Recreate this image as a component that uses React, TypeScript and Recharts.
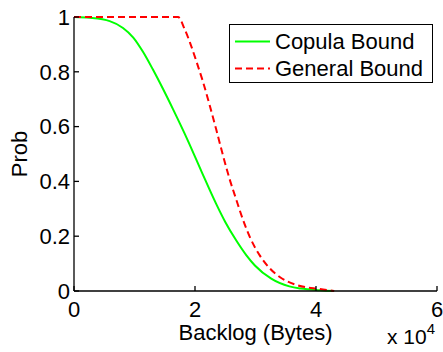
import { LineChart, Line, XAxis, YAxis, Legend } from 'recharts';

// Backlog values are in units of 10^4 bytes
const copulaBacklog = [0, 0.26, 0.59, 0.81, 0.98, 1.14, 1.3, 1.47, 1.64, 1.88, 2.11, 2.35, 2.5, 2.68, 2.85, 2.99, 3.26, 3.56, 3.75, 4.06, 4.3];
const copulaProb = [1, 0.997, 0.985, 0.96, 0.925, 0.873, 0.81, 0.738, 0.662, 0.55, 0.435, 0.318, 0.252, 0.185, 0.13, 0.093, 0.045, 0.017, 0.009, 0.003, 0];

const generalBacklog = [0, 1.0, 1.72, 1.83, 1.92, 2.02, 2.13, 2.24, 2.35, 2.46, 2.57, 2.68, 2.79, 2.9, 3.07, 3.23, 3.4, 3.68, 4.06, 4.3];
const generalProb = [1, 1, 1, 0.955, 0.905, 0.84, 0.765, 0.68, 0.59, 0.497, 0.41, 0.335, 0.262, 0.2, 0.13, 0.084, 0.051, 0.022, 0.007, 0];

const xTicks = [0, 2, 4, 6];
const yTicks = [0, 0.2, 0.4, 0.6, 0.8, 1];

const copulaData = copulaBacklog.map((x, i) => ({ x, p: copulaProb[i] }));
const generalData = generalBacklog.map((x, i) => ({ x, p: generalProb[i] }));

const FONT = '"Liberation Sans", Arial, Helvetica, sans-serif';
const tickStyle = { fill: '#000', fontSize: 22, fontFamily: FONT };
const axisStroke = { stroke: '#000', strokeWidth: 1.3 };

function LegendBox() {
  const rows = [
    { label: 'Copula Bound', color: '#00ff00', dash: undefined },
    { label: 'General Bound', color: '#ff0000', dash: '7 4' },
  ];
  return (
    <div
      style={{
        boxSizing: 'border-box',
        width: 204,
        height: 59,
        border: '1.3px solid #000',
        background: '#fff',
        paddingTop: 3,
        fontFamily: FONT,
        fontSize: 22,
        color: '#000',
      }}
    >
      {rows.map((r) => (
        <div key={r.label} style={{ display: 'flex', alignItems: 'center', height: 27, lineHeight: '27px' }}>
          <svg width={45} height={27} style={{ flex: 'none' }}>
            <line x1={5} x2={40} y1={13.5} y2={13.5} stroke={r.color} strokeWidth={2} strokeDasharray={r.dash} />
          </svg>
          <span style={{ whiteSpace: 'nowrap' }}>{r.label}</span>
        </div>
      ))}
    </div>
  );
}

export default function App() {
  return (
    <div style={{ position: 'absolute', left: 0, top: 0, width: 443, height: 352, background: '#fff' }}>
      <LineChart width={443} height={352} margin={{ top: 17, right: 6, bottom: 0, left: 0 }}>
        <XAxis
          type="number"
          dataKey="x"
          domain={[0, 6]}
          ticks={xTicks}
          height={61}
          tickSize={-5}
          tickMargin={15}
          tick={tickStyle}
          tickLine={axisStroke}
          axisLine={axisStroke}
          label={{ value: 'Backlog (Bytes)', position: 'insideBottom', offset: 12, fill: '#000', fontSize: 22, fontFamily: FONT }}
        />
        <XAxis
          xAxisId="top"
          orientation="top"
          type="number"
          domain={[0, 6]}
          ticks={xTicks}
          height={0}
          tickSize={-5}
          tickFormatter={() => ''}
          tickLine={axisStroke}
          axisLine={axisStroke}
        />
        <YAxis
          type="number"
          domain={[0, 1]}
          ticks={yTicks}
          width={74}
          tickSize={-5}
          tickMargin={9}
          tick={tickStyle}
          tickFormatter={(v) => String(v)}
          tickLine={axisStroke}
          axisLine={axisStroke}
          label={{
            value: 'Prob',
            angle: -90,
            position: 'insideLeft',
            offset: 19,
            fill: '#000',
            fontSize: 22,
            fontFamily: FONT,
            style: { textAnchor: 'middle' },
          }}
        />
        <YAxis
          yAxisId="right"
          orientation="right"
          type="number"
          domain={[0, 1]}
          ticks={yTicks}
          width={0}
          tickSize={-5}
          tickFormatter={() => ''}
          tickLine={axisStroke}
          axisLine={axisStroke}
        />
        {/* middle/center placement keeps the legend from reserving plot space */}
        <Legend
          layout="horizontal"
          verticalAlign="middle"
          align="center"
          content={() => <LegendBox />}
          wrapperStyle={{ position: 'absolute', top: 24, left: 229, width: 204, height: 59, bottom: 'auto', right: 'auto' }}
        />
        <Line
          data={copulaData}
          dataKey="p"
          type="monotone"
          stroke="#00ff00"
          strokeWidth={2}
          dot={false}
          isAnimationActive={false}
          name="Copula Bound"
        />
        <Line
          data={generalData}
          dataKey="p"
          type="monotone"
          stroke="#ff0000"
          strokeWidth={2}
          strokeDasharray="7 4"
          dot={false}
          isAnimationActive={false}
          name="General Bound"
        />
      </LineChart>
      <div
        style={{
          position: 'absolute',
          left: 387,
          top: 326,
          fontFamily: FONT,
          fontSize: 21,
          lineHeight: '21px',
          color: '#000',
          whiteSpace: 'nowrap',
        }}
      >
        x 10<sup style={{ fontSize: 15, verticalAlign: 0, position: 'relative', top: -10 }}>4</sup>
      </div>
    </div>
  );
}
